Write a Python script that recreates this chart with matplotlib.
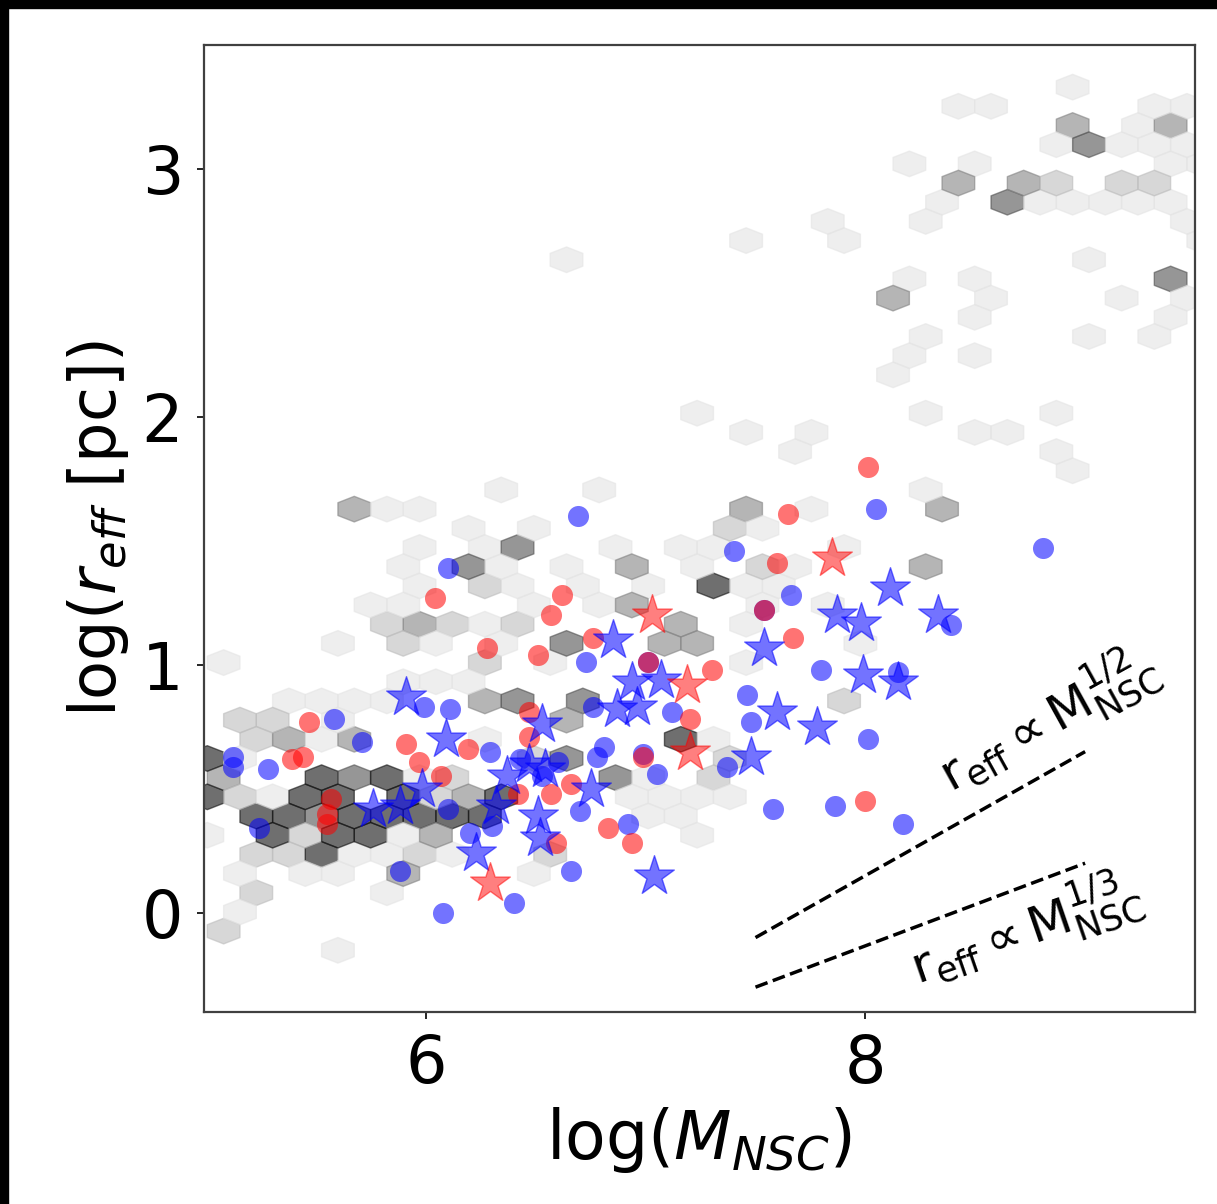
import matplotlib
matplotlib.use("Agg")
import matplotlib.pyplot as plt
import numpy as np
from matplotlib.patches import Rectangle

# background sample, binned into hexagons (cell centre x, y, count)
hex_x = [8.94, 8.42, 8.57, 9.32, 9.46, 8.94, 9.24, 9.39, 8.87, 9.02,
         9.17, 9.32, 9.46, 8.20, 8.50, 9.39, 9.54, 8.42, 8.72, 8.87,
         9.17, 9.32, 8.35, 8.65, 8.80, 8.94, 9.09, 9.24, 9.39, 8.27,
         9.46, 7.83, 7.46, 7.90, 9.54, 6.64, 9.02, 8.20, 8.50, 9.39,
         8.13, 8.57, 9.17, 9.46, 8.50, 9.39, 8.27, 9.02, 9.32, 8.20,
         8.50, 8.13, 7.23, 8.27, 8.87, 7.46, 7.75, 8.50, 8.65, 7.68,
         8.87, 8.94, 8.27, 6.34, 6.79, 7.46, 7.75, 8.35, 5.67, 5.82,
         5.97, 7.38, 7.53, 6.49, 6.19, 7.31, 7.90, 6.42, 6.86, 7.16,
         5.97, 6.27, 7.53, 7.68, 8.27, 6.64, 6.94, 7.23, 6.19, 5.90,
         6.34, 7.31, 7.46, 7.61, 6.27, 6.42, 6.71, 7.01, 5.97, 7.83,
         6.49, 6.79, 6.94, 7.53, 5.75, 5.90, 7.46, 6.27, 6.42, 7.16,
         5.82, 5.97, 6.12, 7.23, 7.98, 6.64, 7.09, 5.60, 5.90, 6.05,
         6.34, 7.46, 6.27, 5.08, 6.57, 5.90, 6.05, 6.19, 7.90, 5.38,
         5.53, 5.67, 5.82, 6.27, 6.42, 6.71, 5.15, 5.30, 6.64, 5.60,
         5.23, 5.38, 5.53, 5.67, 7.16, 7.31, 6.27, 5.01, 6.64, 7.38,
         5.15, 6.49, 5.08, 5.53, 5.67, 5.82, 5.97, 6.12, 6.86, 7.01,
         7.31, 5.01, 5.15, 5.30, 5.45, 5.60, 5.90, 6.05, 6.19, 6.34,
         6.94, 7.09, 7.23, 7.38, 5.23, 5.38, 5.53, 5.67, 5.82, 5.97,
         6.12, 6.27, 7.01, 7.16, 5.01, 5.30, 5.45, 5.60, 5.75, 5.90,
         6.05, 7.23, 5.23, 5.38, 5.53, 5.67, 5.82, 5.97, 6.12, 6.57,
         5.15, 5.45, 5.60, 5.90, 6.49, 5.23, 5.82, 5.15, 5.08, 5.60]
hex_y = [3.33, 3.25, 3.25, 3.25, 3.25, 3.18, 3.18, 3.18, 3.10, 3.10,
         3.10, 3.10, 3.10, 3.02, 3.02, 3.02, 3.02, 2.94, 2.94, 2.94,
         2.94, 2.94, 2.87, 2.87, 2.87, 2.87, 2.87, 2.87, 2.87, 2.79,
         2.79, 2.79, 2.71, 2.71, 2.71, 2.63, 2.63, 2.56, 2.56, 2.56,
         2.48, 2.48, 2.48, 2.48, 2.40, 2.40, 2.32, 2.32, 2.32, 2.25,
         2.25, 2.17, 2.02, 2.02, 2.02, 1.94, 1.94, 1.94, 1.94, 1.86,
         1.86, 1.78, 1.71, 1.71, 1.71, 1.63, 1.63, 1.63, 1.63, 1.63,
         1.63, 1.55, 1.55, 1.55, 1.55, 1.47, 1.47, 1.47, 1.47, 1.47,
         1.47, 1.47, 1.40, 1.40, 1.40, 1.40, 1.40, 1.40, 1.40, 1.40,
         1.40, 1.32, 1.32, 1.32, 1.32, 1.32, 1.32, 1.32, 1.32, 1.24,
         1.24, 1.24, 1.24, 1.24, 1.24, 1.24, 1.16, 1.16, 1.16, 1.16,
         1.16, 1.16, 1.16, 1.09, 1.09, 1.09, 1.09, 1.09, 1.09, 1.09,
         1.09, 1.01, 1.01, 1.01, 1.01, 0.93, 0.93, 0.93, 0.85, 0.85,
         0.85, 0.85, 0.85, 0.85, 0.85, 0.85, 0.78, 0.78, 0.78, 0.78,
         0.70, 0.70, 0.70, 0.70, 0.70, 0.70, 0.70, 0.62, 0.62, 0.62,
         0.62, 0.62, 0.55, 0.55, 0.55, 0.55, 0.55, 0.55, 0.55, 0.55,
         0.55, 0.47, 0.47, 0.47, 0.47, 0.47, 0.47, 0.47, 0.47, 0.47,
         0.47, 0.47, 0.47, 0.47, 0.39, 0.39, 0.39, 0.39, 0.39, 0.39,
         0.39, 0.39, 0.39, 0.39, 0.31, 0.31, 0.31, 0.31, 0.31, 0.31,
         0.31, 0.31, 0.24, 0.24, 0.24, 0.24, 0.24, 0.24, 0.24, 0.24,
         0.16, 0.16, 0.16, 0.16, 0.16, 0.08, 0.08, 0.00, -0.07, -0.15]
hex_n = [1, 1, 1, 1, 1, 3, 1, 3, 1, 4,
         1, 1, 1, 1, 1, 1, 1, 3, 3, 2,
         2, 2, 1, 4, 1, 1, 1, 1, 1, 1,
         1, 1, 1, 1, 1, 1, 1, 1, 1, 4,
         3, 1, 1, 1, 1, 1, 1, 1, 1, 1,
         1, 1, 1, 1, 1, 1, 1, 1, 1, 1,
         1, 1, 1, 1, 1, 3, 1, 3, 3, 1,
         1, 2, 1, 1, 1, 1, 1, 4, 1, 1,
         1, 1, 2, 1, 3, 1, 3, 1, 4, 1,
         1, 5, 1, 1, 2, 1, 1, 1, 1, 1,
         1, 1, 3, 1, 1, 1, 1, 1, 2, 3,
         2, 3, 2, 3, 1, 4, 3, 1, 2, 1,
         1, 1, 2, 1, 1, 1, 1, 1, 2, 1,
         1, 1, 1, 3, 4, 4, 2, 2, 3, 1,
         2, 3, 1, 3, 5, 1, 1, 5, 4, 2,
         1, 2, 3, 5, 4, 5, 1, 2, 4, 1,
         2, 5, 2, 1, 5, 5, 5, 2, 3, 5,
         1, 1, 1, 1, 5, 5, 4, 5, 5, 5,
         5, 5, 1, 1, 1, 5, 2, 5, 5, 1,
         3, 1, 2, 2, 5, 1, 1, 2, 1, 2,
         1, 1, 1, 3, 1, 2, 1, 1, 2, 1]

# nuclear star clusters: log mass, log effective radius
blue_circ_x = [6.10, 5.99, 6.11, 5.58, 5.71, 5.12, 5.12, 5.28, 6.10, 5.24,
               6.29, 6.30, 5.88, 6.08, 6.76, 7.12, 6.43, 6.60, 6.81, 6.78,
               6.99, 7.05, 7.37, 6.53, 6.70, 6.92, 6.66, 6.40, 7.58, 6.69,
               7.40, 6.73, 7.01, 7.46, 7.48, 7.54, 8.05, 7.66, 8.39, 7.80,
               8.15, 8.01, 7.86, 8.17, 8.81, 6.20]
blue_circ_y = [1.39, 0.83, 0.82, 0.78, 0.69, 0.63, 0.59, 0.58, 0.42, 0.34,
               0.65, 0.35, 0.17, 0.00, 0.83, 0.81, 0.62, 0.61, 0.67, 0.63,
               0.64, 0.56, 0.59, 0.55, 0.41, 0.36, 0.17, 0.04, 0.42, 1.60,
               1.46, 1.01, 1.01, 0.88, 0.77, 1.22, 1.63, 1.28, 1.16, 0.98,
               0.97, 0.70, 0.43, 0.36, 1.47, 0.32]
red_circ_x = [6.04, 6.28, 5.47, 5.91, 5.39, 5.44, 6.19, 5.97, 6.07, 5.57,
              5.55, 5.55, 6.47, 6.47, 7.20, 6.99, 6.66, 6.57, 6.42, 6.59,
              6.83, 6.94, 6.62, 6.57, 6.51, 6.76, 7.01, 7.30, 7.54, 7.65,
              7.60, 7.67, 8.00, 8.01]
red_circ_y = [1.27, 1.07, 0.77, 0.68, 0.62, 0.63, 0.66, 0.61, 0.55, 0.46,
              0.40, 0.36, 0.81, 0.71, 0.78, 0.63, 0.52, 0.48, 0.48, 0.28,
              0.34, 0.28, 1.28, 1.20, 1.04, 1.11, 1.01, 0.98, 1.22, 1.61,
              1.41, 1.11, 0.45, 1.80]
blue_star_x = [5.91, 6.09, 6.53, 6.85, 6.94, 7.07, 6.96, 6.87, 7.04, 6.23,
               6.52, 6.51, 6.32, 6.75, 6.37, 5.76, 5.88, 7.54, 7.60, 7.78,
               7.48, 7.87, 7.98, 8.11, 8.33, 7.99, 8.15, 6.47, 6.54, 5.98]
blue_star_y = [0.87, 0.70, 0.76, 1.10, 0.93, 0.94, 0.83, 0.82, 0.15, 0.24,
               0.30, 0.39, 0.43, 0.50, 0.55, 0.42, 0.43, 1.07, 0.81, 0.75,
               0.63, 1.20, 1.17, 1.31, 1.20, 0.96, 0.93, 0.60, 0.58, 0.50]
red_star_x = [7.03, 7.19, 7.20, 7.85, 6.29]
red_star_y = [1.20, 0.92, 0.65, 1.43, 0.12]

# guide power laws, end points
guide_x = [7.5, 9.0]
half_y = [-0.10, 0.65]
third_y = [-0.30, 0.20]

fig = plt.figure(figsize=(12.17, 12.04), dpi=100)
ax = fig.add_axes([0.1676, 0.1595, 0.8143, 0.8031])

ax.hexbin(hex_x, hex_y, C=hex_n, reduce_C_function=np.sum,
          gridsize=(32, 27), extent=(4.9309, 9.6864, -0.5381, 3.6396),
          cmap="Greys", vmin=0, vmax=5.3, alpha=0.6, linewidths=1.0, zorder=1)

ax.scatter(blue_circ_x, blue_circ_y, s=230, color="blue", alpha=0.55, lw=0, zorder=3)
ax.scatter(red_circ_x, red_circ_y, s=230, color="red", alpha=0.55, lw=0, zorder=3)
ax.scatter(blue_star_x, blue_star_y, s=900, marker="*", color="blue", alpha=0.55, lw=1, zorder=4)
ax.scatter(red_star_x, red_star_y, s=900, marker="*", color="red", alpha=0.5, lw=1, zorder=4)

ax.plot(guide_x, half_y, "k--", lw=2.5, zorder=5)
ax.plot(guide_x, third_y, "k--", lw=2.5, zorder=5)
ax.text(8.83, 0.78, r"$\mathrm{r_{eff}} \propto \mathrm{M_{NSC}^{1/2}}$",
        rotation=29, ha="center", va="center", rotation_mode="anchor", fontsize=36)
ax.text(8.73, -0.07, r"$\mathrm{r_{eff}} \propto \mathrm{M_{NSC}^{1/3}}$",
        rotation=19, ha="center", va="center", rotation_mode="anchor", fontsize=36)

ax.set_xlim(4.99, 9.5)
ax.set_ylim(-0.4, 3.5)
ax.set_xticks([6, 8])
ax.set_yticks([0, 1, 2, 3])
ax.tick_params(labelsize=47, length=5, width=1.2, pad=10)
ax.set_xlabel(r"log($M_{NSC}$)", fontsize=48, labelpad=6)
ax.set_ylabel(r"log($r_{eff}$ [pc])", fontsize=46, labelpad=8)
for sp in ax.spines.values():
    sp.set_linewidth(1.6)
    sp.set_color("#404040")

# black strips along the top and left edges of the image
fig.add_artist(Rectangle((0, 1 - 8 / 1204), 1, 8 / 1204, transform=fig.transFigure,
                         color="black", zorder=10))
fig.add_artist(Rectangle((0, 0), 8 / 1217, 1, transform=fig.transFigure,
                         color="black", zorder=10))

fig.savefig("out.png", dpi=100)
